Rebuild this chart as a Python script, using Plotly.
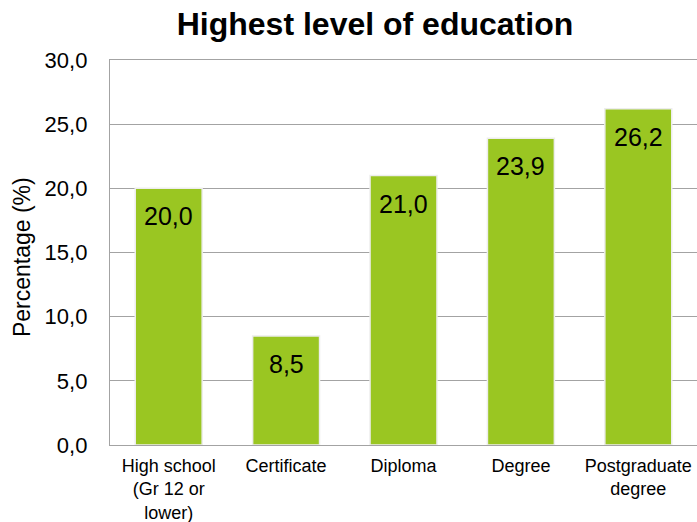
import plotly.graph_objects as go

categories = ["High school<br>(Gr 12 or<br>lower)", "Certificate", "Diploma", "Degree", "Postgraduate<br>degree"]
values = [20.0, 8.5, 21.0, 23.9, 26.2]
y_ticks = [0, 5, 10, 15, 20, 25, 30]

FONT = "Liberation Sans, Arial"

fig = go.Figure(
    go.Bar(
        x=categories,
        y=values,
        width=0.57,
        marker=dict(color="#9AC622", line=dict(color="#EDEDED", width=1.5)),
        hoverinfo="x+y",
    )
)

# value labels just below the top of each bar
for cat, v in zip(categories, values):
    fig.add_annotation(
        x=cat,
        y=v,
        text=f"{v:.1f}".replace(".", ","),
        yshift=-28,
        yanchor="middle",
        xanchor="center",
        showarrow=False,
        font=dict(family=FONT, size=25, color="black"),
    )

fig.update_layout(
    width=697,
    height=522,
    margin=dict(l=110, r=0, t=60, b=77),
    paper_bgcolor="white",
    plot_bgcolor="white",
    separators=",.",
    showlegend=False,
    font=dict(family=FONT, color="black"),
    title=dict(
        text="<b>Highest level of education</b>",
        x=0.538,
        xanchor="center",
        y=0.954,
        yanchor="middle",
        font=dict(size=32, color="black"),
    ),
    bargap=0.43,
)

fig.update_yaxes(
    range=[0, 30],
    tickvals=y_ticks,
    tickformat=".1f",
    tickfont=dict(size=22),
    ticklabelstandoff=17,
    showgrid=True,
    gridcolor="#A3A3A3",
    gridwidth=1.3,
    showline=True,
    linecolor="#A3A3A3",
    linewidth=1.3,
    mirror=True,
    zeroline=False,
    automargin=False,
)
fig.update_xaxes(
    tickfont=dict(size=18),
    ticklabelstandoff=4,
    showline=True,
    linecolor="#A3A3A3",
    linewidth=1.3,
    mirror=True,
    automargin=False,
)

fig.add_annotation(
    text="Percentage (%)",
    xref="paper",
    yref="paper",
    x=-0.15,
    y=0.488,
    xanchor="center",
    yanchor="middle",
    textangle=-90,
    showarrow=False,
    font=dict(size=23),
)

fig.write_html("out.html")
